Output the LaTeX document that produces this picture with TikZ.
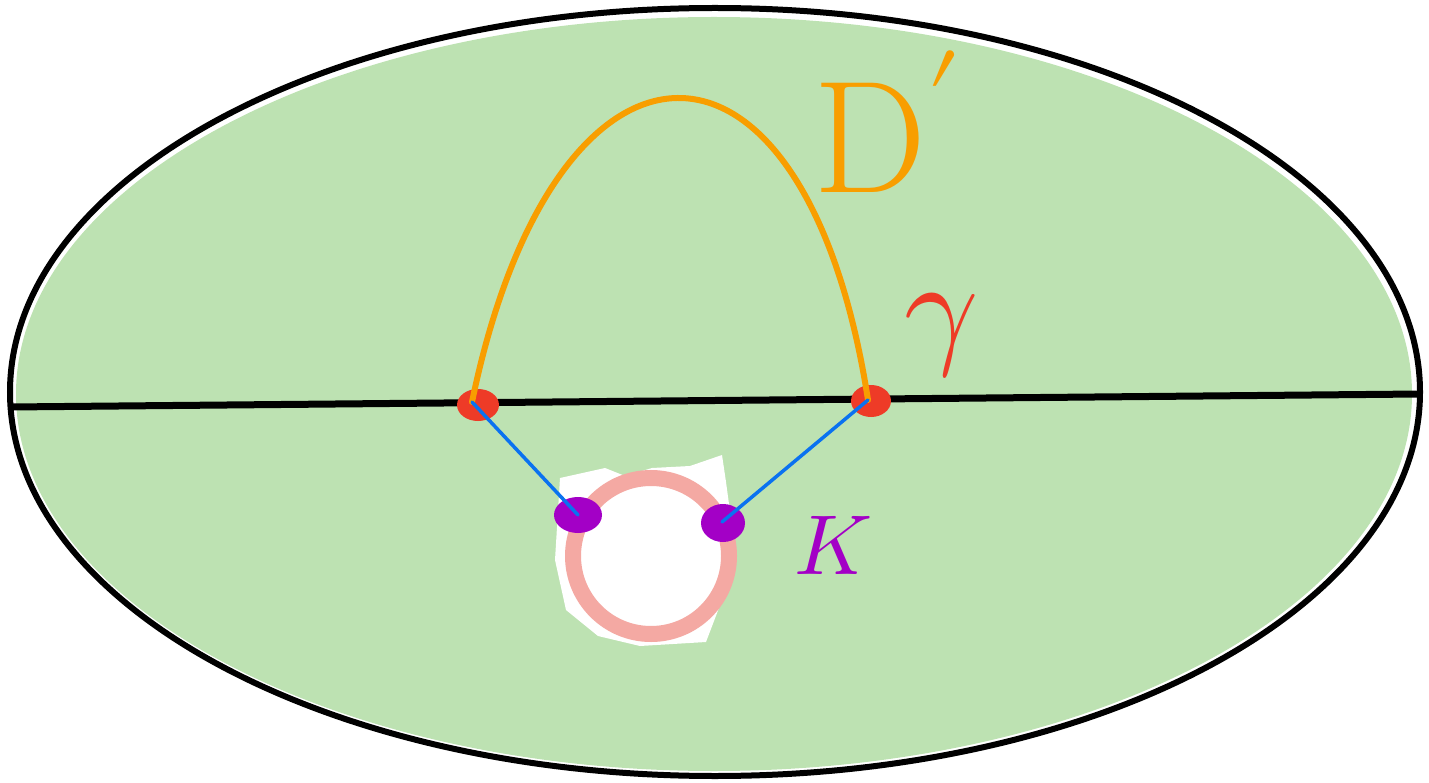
\documentclass[tikz,border=0pt]{standalone}
\usepackage{unicode-math}
\definecolor{fillgreen}{HTML}{BDE2B2}
\definecolor{arcorange}{HTML}{F89E00}
\definecolor{curvered}{HTML}{EE3B27}
\definecolor{kpurple}{HTML}{A300C6}
\definecolor{linkblue}{HTML}{0A72F0}
\definecolor{ringpink}{HTML}{F4A9A3}
\begin{document}
\begin{tikzpicture}[x=1pt,y=-1pt,
  reddot/.style={fill=curvered},
  purpledot/.style={fill=kpurple},
  link/.style={linkblue,line width=3.5pt,line cap=round},
  handtext/.style={inner sep=0pt}]
  \useasboundingbox (0,0) rectangle (1429,783);
  \fill[fillgreen] (714,394) ellipse [x radius=698, y radius=377];
  \fill[white] (560,478) -- (605,468) -- (625,476) -- (652,468) -- (690,466) -- (722,455)
       -- (726,482) -- (735,548) -- (722,600) -- (706,642) -- (640,646) -- (598,636)
       -- (566,610) -- (555,560) -- cycle;
  \draw[ringpink,line width=16pt] (651,556) circle [radius=78];
  \draw[line width=6pt] (715,392) ellipse [x radius=705, y radius=384];
  \coordinate (west) at (10,407);
  \coordinate (east) at (1420,394);
  \draw[line width=7pt] (west) -- (east);
  \coordinate (g1) at (472,402);
  \coordinate (g2) at (868,400);
  \coordinate (k1) at (578,515);
  \coordinate (k2) at (722,522);
  \fill[reddot] (478,405) ellipse [x radius=21, y radius=16];
  \fill[reddot] (871,401) ellipse [x radius=20, y radius=16];
  \fill[purpledot] (578,515) ellipse [x radius=24, y radius=18];
  \fill[purpledot] (723,523) ellipse [x radius=22, y radius=19];
  \draw[arcorange,line width=6pt,line cap=round] (g1) .. controls (555,0) and (805,-6) .. (g2);
  \draw[link] (g1) -- (k1);
  \draw[link] (g2) -- (k2);
  \node[handtext,text=arcorange,font=\fontsize{160}{160}\selectfont] (dlab) at (888,122) {$\mathrm{D}'$};
  \node[handtext,text=curvered,font=\fontsize{130}{130}\selectfont] (glab) at (942,336) {$\gamma$};
  \node[handtext,text=kpurple,font=\fontsize{85}{85}\selectfont] (klab) at (833,545) {$K$};
\end{tikzpicture}
\end{document}
